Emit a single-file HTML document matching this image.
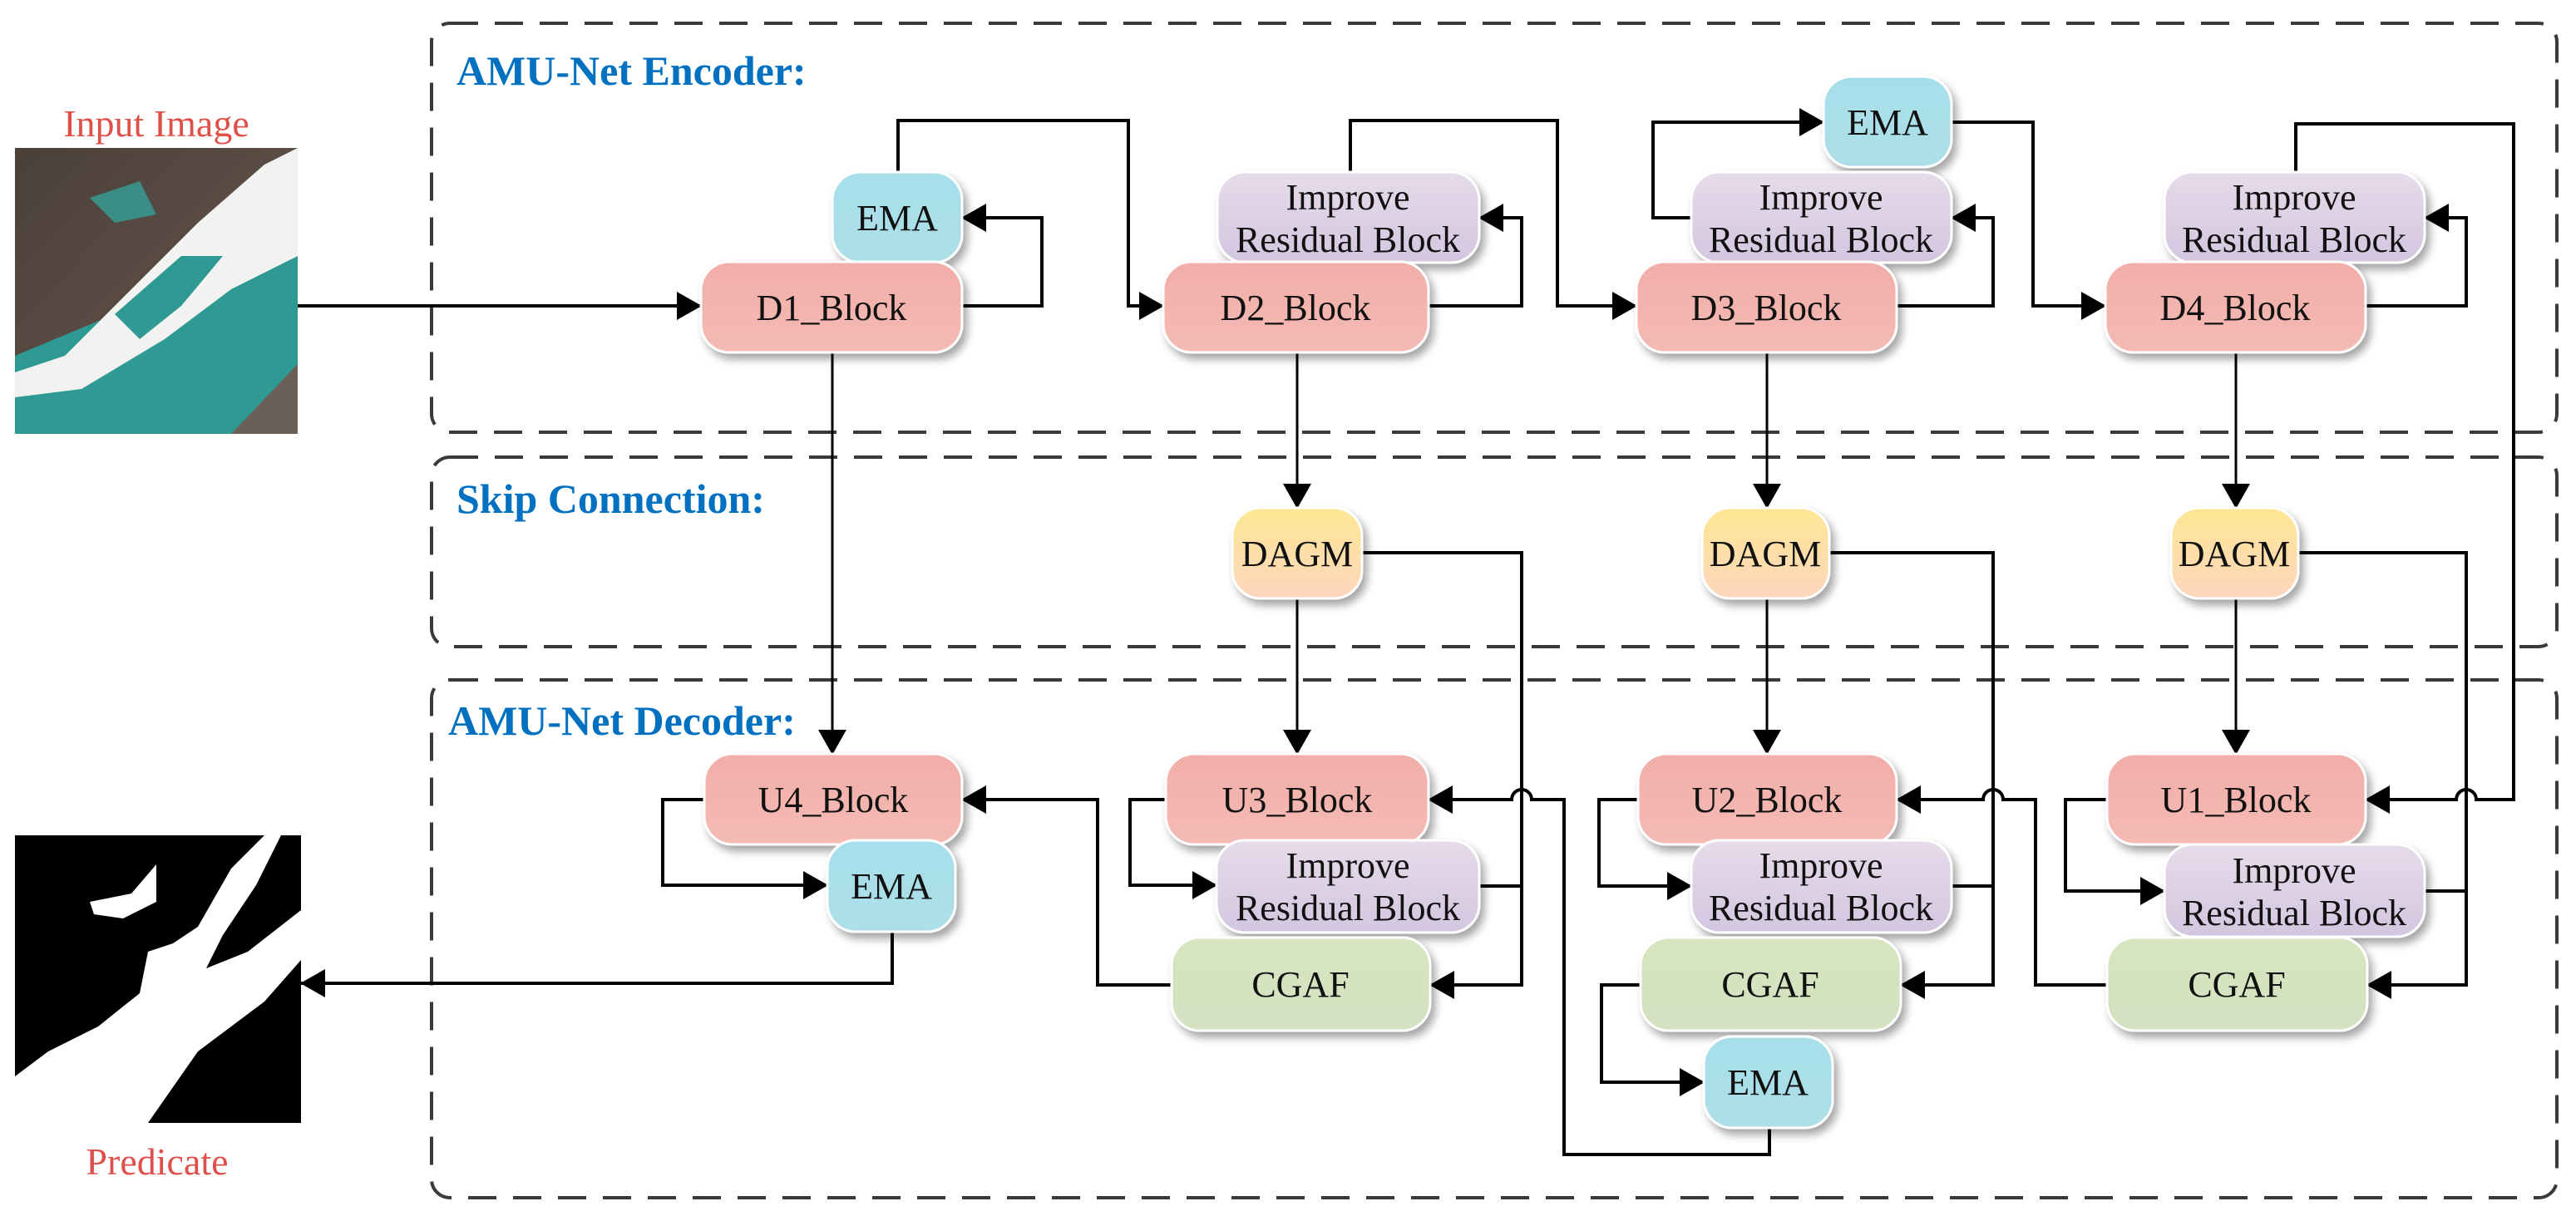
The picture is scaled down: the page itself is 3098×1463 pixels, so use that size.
<!DOCTYPE html>
<html><head><meta charset="utf-8"><style>
html,body{margin:0;padding:0;background:#fff}
svg{display:block}
svg text{font-family:"Liberation Serif","DejaVu Serif",serif}
</style></head><body>
<svg width="3098" height="1463" viewBox="0 0 3098 1463" xmlns="http://www.w3.org/2000/svg" font-family="Liberation Serif, DejaVu Serif, serif">
<defs>
<marker id="a" markerUnits="userSpaceOnUse" markerWidth="30" markerHeight="34" refX="29" refY="17" orient="auto"><path d="M0,0 L30,17 L0,34 z" fill="#000"/></marker>
<filter id="sh" x="-20%" y="-20%" width="140%" height="150%"><feDropShadow dx="5" dy="7" stdDeviation="5" flood-color="#000" flood-opacity="0.35"/></filter>
<linearGradient id="gb" x1="0" y1="0" x2="0" y2="1"><stop offset="0" stop-color="#f2aea8"/><stop offset="1" stop-color="#f4bab4"/></linearGradient>
<linearGradient id="ge" x1="0" y1="0" x2="0" y2="1"><stop offset="0" stop-color="#a6dfea"/><stop offset="1" stop-color="#addfe8"/></linearGradient>
<linearGradient id="gi" x1="0" y1="0" x2="0" y2="1"><stop offset="0" stop-color="#e6dcea"/><stop offset="1" stop-color="#d3c6e0"/></linearGradient>
<linearGradient id="gd" x1="0" y1="0" x2="0" y2="1"><stop offset="0" stop-color="#fee794"/><stop offset="1" stop-color="#fdd6bd"/></linearGradient>
<linearGradient id="gc" x1="0" y1="0" x2="0" y2="1"><stop offset="0" stop-color="#d6e4bf"/><stop offset="1" stop-color="#d4e2c2"/></linearGradient>
<linearGradient id="land" x1="0" y1="0" x2="1" y2="1"><stop offset="0" stop-color="#4a4038"/><stop offset="0.5" stop-color="#5b4c44"/><stop offset="1" stop-color="#3e3a33"/></linearGradient>
</defs>

<g fill="none" stroke="#3a3a3a" stroke-width="4" stroke-dasharray="34,20">
<rect x="519" y="28" width="2556" height="492" rx="22"/>
<rect x="519" y="550" width="2556" height="228" rx="22"/>
<rect x="519" y="818" width="2556" height="623" rx="22"/>
</g>

<text x="549" y="102" font-size="50" font-weight="bold" fill="#0070c0">AMU-Net Encoder:</text>
<text x="549" y="617" font-size="50" font-weight="bold" fill="#0070c0">Skip Connection:</text>
<text x="539" y="884" font-size="50" font-weight="bold" fill="#0070c0">AMU-Net Decoder:</text>

<text x="188" y="164" font-size="46" fill="#e0504a" text-anchor="middle">Input Image</text>
<text x="189" y="1413" font-size="46" fill="#e0504a" text-anchor="middle">Predicate</text>

<svg x="18" y="178" width="340" height="344" viewBox="0 0 340 344">
<rect width="340" height="344" fill="url(#land)"/>
<path d="M0,344 L0,250 L120,200 L230,120 L340,80 L340,344 z" fill="#2f9a93"/>
<path d="M60,250 L140,170 L220,90 L300,20 L340,0 L340,130 L260,170 L180,230 L80,290 L0,300 L0,270 z" fill="#f2f2f0"/>
<path d="M120,200 L200,130 L250,130 L200,190 L150,230 z" fill="#2f9a93"/>
<path d="M90,60 L150,40 L170,80 L120,90 z" fill="#3a8e85"/>
<path d="M260,344 L340,260 L340,344 z" fill="#6a6058"/>
</svg>
<svg x="18" y="1005" width="344" height="346" viewBox="0 0 344 346">
<rect width="344" height="346" fill="#000"/>
<path d="M0,290 L40,260 L100,230 L150,190 L160,140 L190,130 L220,110 L260,40 L300,0 L320,0 L290,60 L250,120 L230,160 L280,140 L344,90 L344,150 L300,200 L220,260 L160,346 L0,346 z" fill="#fff"/>
<path d="M90,80 L140,70 L170,35 L170,80 L130,100 L95,95 z" fill="#fff"/>
</svg>

<g fill="none" stroke="#000" stroke-width="4">
<path d="M358,368 H843" marker-end="url(#a)"/>
<path d="M1157,368 H1253 V262 H1157" marker-end="url(#a)"/>
<path d="M1080,207 V145 H1357 V368 H1399" marker-end="url(#a)"/>
<path d="M1718,368 H1830 V262 H1779" marker-end="url(#a)"/>
<path d="M1624,207 V145 H1873 V368 H1968" marker-end="url(#a)"/>
<path d="M2281,368 H2397 V262 H2347" marker-end="url(#a)"/>
<path d="M2034,262 H1988 V147 H2193" marker-end="url(#a)"/>
<path d="M2347,147 H2445 V368 H2532" marker-end="url(#a)"/>
<path d="M2845,368 H2966 V262 H2916" marker-end="url(#a)"/>
<path d="M2761,207 V149 H3023 V962 H2978 A12,12 0 0 0 2954,962 H2845" marker-end="url(#a)"/>

<path d="M1636,665 H1830 V1185 H1720" marker-end="url(#a)"/>
<path d="M1779,1066 H1830"/>
<path d="M2200,665 H2397 V1185 H2286" marker-end="url(#a)"/>
<path d="M2347,1066 H2397"/>
<path d="M2764,665 H2966 V1185 H2847" marker-end="url(#a)"/>
<path d="M2916,1072 H2966"/>

<path d="M1409,1185 H1320 V962 H1157" marker-end="url(#a)"/>
<path d="M847,962 H797 V1065 H995" marker-end="url(#a)"/>
<path d="M1073,1121 V1183 H362" marker-end="url(#a)"/>
<path d="M1409,962 H1359 V1065 H1463" marker-end="url(#a)"/>
<path d="M2128,1357 V1389 H1881 V962 H1842 A12,12 0 0 0 1818,962 H1718" marker-end="url(#a)"/>
<path d="M1970,962 H1923 V1066 H2034" marker-end="url(#a)"/>
<path d="M1973,1185 H1926 V1302 H2049" marker-end="url(#a)"/>
<path d="M2534,1185 H2448 V962 H2409 A12,12 0 0 0 2385,962 H2281" marker-end="url(#a)"/>
<path d="M2534,962 H2484 V1072 H2603" marker-end="url(#a)"/>
</g>
<g fill="none" stroke="#000" stroke-width="3">
<path d="M1001,424 V907" marker-end="url(#a)"/>
<path d="M1560,424 V611" marker-end="url(#a)"/>
<path d="M2125,424 V611" marker-end="url(#a)"/>
<path d="M2689,424 V611" marker-end="url(#a)"/>
<path d="M1560,720 V907" marker-end="url(#a)"/>
<path d="M2125,720 V907" marker-end="url(#a)"/>
<path d="M2689,720 V907" marker-end="url(#a)"/>
</g>

<g filter="url(#sh)" stroke="#fff" stroke-width="3">
<rect x="1001" y="207" width="156" height="109" rx="34" fill="url(#ge)"/>
<rect x="843" y="315" width="314" height="109" rx="34" fill="url(#gb)"/>
<rect x="1464" y="207" width="315" height="109" rx="34" fill="url(#gi)"/>
<rect x="1399" y="315" width="319" height="109" rx="34" fill="url(#gb)"/>
<rect x="2193" y="92" width="154" height="109" rx="34" fill="url(#ge)"/>
<rect x="2034" y="207" width="313" height="109" rx="34" fill="url(#gi)"/>
<rect x="1968" y="315" width="313" height="109" rx="34" fill="url(#gb)"/>
<rect x="2603" y="207" width="313" height="109" rx="34" fill="url(#gi)"/>
<rect x="2532" y="315" width="313" height="109" rx="34" fill="url(#gb)"/>

<rect x="1482" y="611" width="156" height="109" rx="34" fill="url(#gd)"/>
<rect x="2047" y="611" width="153" height="109" rx="34" fill="url(#gd)"/>
<rect x="2611" y="611" width="153" height="109" rx="34" fill="url(#gd)"/>

<rect x="847" y="907" width="310" height="109" rx="34" fill="url(#gb)"/>
<rect x="995" y="1011" width="154" height="110" rx="34" fill="url(#ge)"/>
<rect x="1402" y="907" width="316" height="109" rx="34" fill="url(#gb)"/>
<rect x="1463" y="1011" width="316" height="111" rx="34" fill="url(#gi)"/>
<rect x="1409" y="1128" width="311" height="112" rx="34" fill="url(#gc)"/>
<rect x="1970" y="907" width="311" height="109" rx="34" fill="url(#gb)"/>
<rect x="2034" y="1011" width="313" height="111" rx="34" fill="url(#gi)"/>
<rect x="1973" y="1128" width="313" height="112" rx="34" fill="url(#gc)"/>
<rect x="2049" y="1247" width="155" height="110" rx="34" fill="url(#ge)"/>
<rect x="2534" y="907" width="311" height="109" rx="34" fill="url(#gb)"/>
<rect x="2603" y="1016" width="313" height="111" rx="34" fill="url(#gi)"/>
<rect x="2534" y="1128" width="313" height="112" rx="34" fill="url(#gc)"/>
</g>

<g font-size="44" fill="#111" text-anchor="middle">
<text x="1079" y="277">EMA</text>
<text x="1000" y="385">D1_Block</text>
<text x="1621" y="252">Improve</text><text x="1621" y="303">Residual Block</text>
<text x="1558" y="385">D2_Block</text>
<text x="2270" y="162">EMA</text>
<text x="2190" y="252">Improve</text><text x="2190" y="303">Residual Block</text>
<text x="2124" y="385">D3_Block</text>
<text x="2759" y="252">Improve</text><text x="2759" y="303">Residual Block</text>
<text x="2688" y="385">D4_Block</text>

<text x="1560" y="681">DAGM</text>
<text x="2123" y="681">DAGM</text>
<text x="2687" y="681">DAGM</text>

<text x="1002" y="977">U4_Block</text>
<text x="1072" y="1081">EMA</text>
<text x="1560" y="977">U3_Block</text>
<text x="1621" y="1056">Improve</text><text x="1621" y="1107">Residual Block</text>
<text x="1564" y="1199">CGAF</text>
<text x="2125" y="977">U2_Block</text>
<text x="2190" y="1056">Improve</text><text x="2190" y="1107">Residual Block</text>
<text x="2129" y="1199">CGAF</text>
<text x="2126" y="1317">EMA</text>
<text x="2689" y="977">U1_Block</text>
<text x="2759" y="1062">Improve</text><text x="2759" y="1113">Residual Block</text>
<text x="2690" y="1199">CGAF</text>
</g>
</svg>
</body></html>
